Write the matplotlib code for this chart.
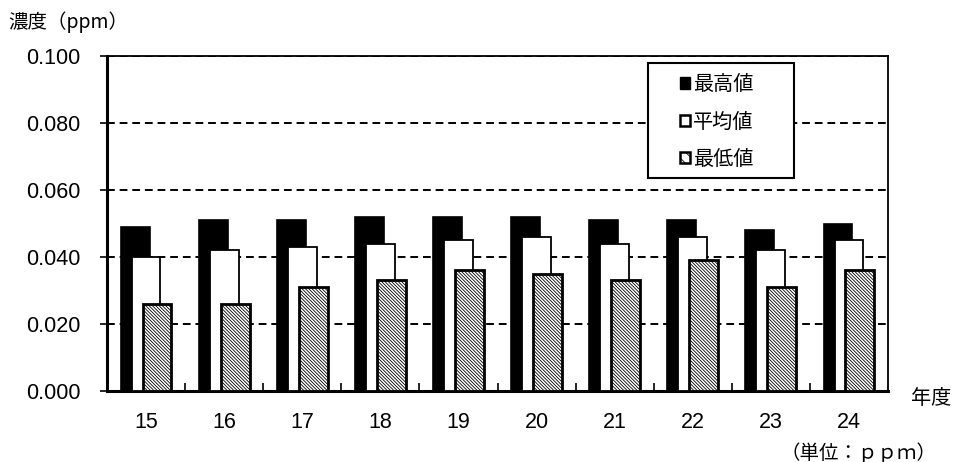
import numpy as np
import matplotlib.pyplot as plt
from matplotlib.patches import Patch, Rectangle

plt.rcParams['font.family'] = ['Noto Sans CJK JP', 'DejaVu Sans']
plt.rcParams['hatch.linewidth'] = 0.6

years = ['15', '16', '17', '18', '19', '20', '21', '22', '23', '24']
max_vals = [0.049, 0.051, 0.051, 0.052, 0.052, 0.052, 0.051, 0.051, 0.048, 0.050]
mean_vals = [0.040, 0.042, 0.043, 0.044, 0.045, 0.046, 0.044, 0.046, 0.042, 0.045]
min_vals = [0.026, 0.026, 0.031, 0.033, 0.036, 0.035, 0.033, 0.039, 0.031, 0.036]
series_names = ['最高値', '平均値', '最低値']

fig = plt.figure(figsize=(9.56, 4.62), dpi=100)
ax = fig.add_axes([107/956, 1-391/462, 781/956, 335/462])

x = np.arange(len(years))
w = 0.37
hatch = '\\' * 10
# overlapping bars, later series drawn on top
ax.bar(x - 0.14, max_vals, w, color='black', edgecolor='black', linewidth=1.2, zorder=3)
ax.bar(x, mean_vals, w, color='white', edgecolor='black', linewidth=1.3, zorder=4)
ax.bar(x + 0.14, min_vals, w, color='white', edgecolor='black', linewidth=2, hatch=hatch, zorder=5)

yt = np.arange(0, 0.101, 0.02)
ax.set_xlim(-0.5, len(years) - 0.5)
ax.set_ylim(0, 0.1)
ax.set_yticks(yt)
ax.set_yticklabels(['%.3f' % v for v in yt], fontsize=15.5, family='Liberation Sans')
ax.yaxis.grid(True, linestyle=(0, (4, 2.5)), color='black', linewidth=1.4, zorder=1)
ax.set_axisbelow(True)

ax.set_xticks(x)
ax.set_xticklabels(years, fontsize=15.5, family='Liberation Sans')
ax.tick_params(axis='x', length=0, pad=15)
ax.set_xticks(np.arange(0.5, len(years) - 1, 1), minor=True)
ax.tick_params(axis='x', which='minor', direction='in', length=6, width=1.2)
ax.tick_params(axis='y', direction='out', length=5, width=1.2, pad=14)

for s in ['left', 'bottom']:
    ax.spines[s].set_linewidth(2.2)
for s in ['top', 'right']:
    ax.spines[s].set_linewidth(1.3)

# legend box drawn separately so it can be as wide as in the reference
ax.add_patch(Rectangle((0.6927, 0.636), 0.187, 0.343, transform=ax.transAxes,
                       facecolor='white', edgecolor='black', linewidth=1.5, zorder=9))
handles = [Patch(facecolor='black', edgecolor='black'),
           Patch(facecolor='white', edgecolor='black', linewidth=1.8),
           Patch(facecolor='white', edgecolor='black', linewidth=1.8, hatch='\\\\\\')]
leg = ax.legend(handles, series_names, loc='center left', bbox_to_anchor=(0.7337, 0.803),
                fontsize=14.5, frameon=False, handlelength=0.5,
                handleheight=0.5, handletextpad=0.15, labelspacing=0.8,
                borderpad=0, borderaxespad=0)
leg.set_zorder(10)

fig.text(8/956, 1-22/462, '濃度（ppm）', fontsize=14, va='center', ha='left')
fig.text(911/956, 1-399/462, '年度', fontsize=14.5, va='center', ha='left')
fig.text(936/956, 1-453/462, '（単位：ｐｐｍ）', fontsize=14, va='center', ha='right')

fig.savefig('out.png', dpi=100)
